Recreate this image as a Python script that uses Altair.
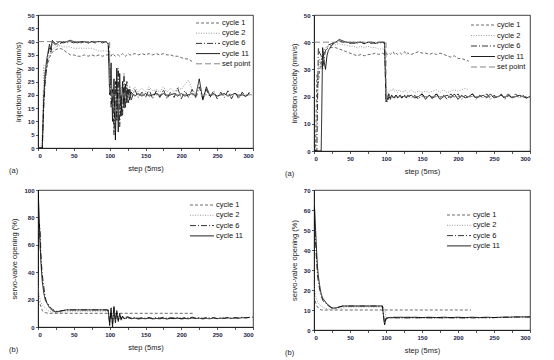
import altair as alt
import pandas as pd

# ---------------- data ----------------
G = [0, 2, 4, 6, 8, 10, 12, 14, 16, 18, 20,
     25, 30, 35, 40, 45, 50, 55, 60, 65, 70, 75, 80, 85, 90, 95,
     98,
     100, 102, 104, 106, 108, 110, 112, 114, 116, 118, 120, 122, 124, 126, 128, 130,
     135, 140, 145, 150, 155, 160, 165, 170, 175, 180, 185, 190, 195, 200, 205, 210, 215,
     220, 225, 230, 235, 240, 245, 250, 255, 260, 265, 270, 275, 280, 285, 290, 295, 300]

B = [0, 1, 2, 3, 4, 5, 6, 8, 10, 12, 14, 16, 18, 20,
     25, 30, 35, 40, 45, 50, 55, 60, 65, 70, 75, 80, 85, 90, 95,
     98,
     100, 102, 104, 106, 108, 110, 112, 114, 116, 118, 120,
     125, 130, 135, 140, 145, 150, 155, 160, 165, 170, 175, 180, 185, 190, 195, 200,
     205, 210, 215, 220, 225, 230, 235, 240, 245, 250, 255, 260, 265, 270, 275, 280,
     285, 290, 295, 300]

SP_X = [0, 100, 100, 300]
SP_Y = [40, 40, 20, 20]

# panel (a) left: injection velocity
TL_c1 = [0, 0, 0, 0, 20, 27, 30, 32, 34, 35, 36,
         37, 37.5, 37, 36, 35, 35, 34.5, 34.5, 35, 34.5, 35, 34.5, 35, 34.5, 35,
         35,
         35, 34.5, 35.5, 35, 34.5, 35, 35, 34.5, 35, 35.5, 35, 34.5, 35, 35.5, 35, 35,
         35.5, 35, 35.5, 35, 35.5, 35, 35.5, 35, 35.5, 35, 35, 34.5, 34.5, 34, 33.5, 33.5, 32.5]
TL_c2 = [0, 0, 0, 5, 31, 24, 30, 33, 35, 36, 37,
         38, 38.5, 38, 38, 38, 37.5, 37.5, 37.5, 37.5, 37.5, 37.5, 37, 36.5, 36.5, 36.5,
         36,
         30, 22, 18, 20, 23, 19, 22, 20, 23, 21, 22, 20, 23, 21, 22, 21,
         23, 21, 22.5, 21, 23, 21.5, 22, 21, 23, 21, 22.5, 21, 23, 22, 24, 25.5, 22, 20.5]
TL_c6 = [0, 0, 0, 0, 15, 25, 30, 35, 38, 36, 40,
         38.5, 39, 40, 39.5, 40, 39.5, 40, 39.5, 40, 39.5, 40, 39.5, 40, 39.5, 40,
         39.5,
         30, 15, 22, 5, 25, 10, 30, 8, 20, 12, 28, 15, 25, 17, 23, 18,
         22, 19, 21, 19, 22, 18.5, 21.5, 19, 22, 18.5, 21, 19, 22.5, 18.5, 21.5, 19, 22,
         19, 23, 18.5, 22, 19, 21.5, 18.5, 21, 19, 21.5, 18.5, 21, 18.5, 21, 19, 21]
TL_c11 = [0, 0, 0, 0, 18, 28, 33, 36, 39, 37, 40.5,
          39, 40, 39.5, 40, 40.5, 40, 39.5, 40, 40, 39.5, 40, 40, 40, 40, 40,
          39,
          20, 32, 10, 26, 3, 30, 6, 28, 12, 25, 15, 24, 17, 22, 18, 21,
          19.5, 20.5, 19.5, 20.5, 19.5, 20, 20.5, 19.5, 20.5, 19.5, 20, 20.5, 19.5, 20.5,
          19.5, 20, 20.5, 19.5, 26, 18, 23, 19.5, 20.5, 19.5, 20, 20.5, 19.5, 20, 20.5,
          19.5, 20, 19.5, 20.5]

# panel (a) right: injection velocity
TR_c1 = [0, 0, 28, 25, 30, 33, 35, 36, 37, 37.5, 38,
         38, 38, 37.5, 37, 36.5, 36, 35.5, 35, 35.5, 35, 35.5, 35.5, 36, 35.5, 36,
         35.5,
         36, 35.5, 36, 35.5, 36, 36.5, 35.5, 36, 35.5, 36, 36, 35.5, 36, 36.5, 35.5, 36,
         35.5, 36, 36.5, 36, 36, 35.5, 36, 35.5, 36, 35.5, 35, 34.5, 35, 34, 34, 33.5, 33]
TR_c2 = [0, 0, 10, 30, 34, 30, 35, 37, 38, 38.5, 38.5,
         39, 39, 39.5, 39, 39, 38.5, 38.5, 38, 38.5, 38, 38.5, 38, 38, 37.5, 37.5,
         37.5,
         25, 20, 22, 22.5, 22, 23, 22, 22.5, 21.5, 22.5, 22, 22, 21.5, 22.5, 22, 21.5,
         22.5, 21.5, 22, 21.5, 22, 21.5, 22, 22.5, 21.5, 22.5, 21.5, 22, 22.5, 22, 22.5, 23, 22.5]
TR_c6 = [0, 0, 0, 38, 36, 35, 30, 34, 37, 38, 39,
         39.5, 40, 40.5, 40, 40, 39.5, 40, 39.5, 40, 39.5, 40, 39.5, 40, 39.5, 40,
         39.5,
         19, 18, 20, 19.5, 20.5, 20, 19.5, 20.5, 19.5, 20.5, 20, 19.5, 20.5, 20, 19.5, 20.5,
         19.5, 20.5, 19, 21, 19.5, 20.5, 19, 21, 19.5, 20.5, 19, 21, 19.5, 21, 19, 20.5,
         19.5, 21, 19, 20.5, 19.5, 21, 19, 20.5, 19.5, 21, 19, 20.5, 19.5, 21, 19.5, 20.5,
         19.5, 20]
TR_c11 = [0, 0, 0, 0, 0, 0, 38, 33, 30, 35, 37,
          39, 40, 41, 40.5, 40, 40, 39.5, 40, 40, 39.5, 40, 40, 39.5, 40, 40,
          40,
          18, 19, 21, 19, 20.5, 19.5, 20, 20.5, 19.5, 20, 20.5, 19.5, 20, 20.5, 19.5, 20,
          20.5, 19.5, 20, 21, 19, 20.5, 19.5, 21, 19, 20, 20.5, 19.5, 21, 19, 20.5, 19.5,
          20, 21, 19.5, 20, 20.5, 19.5, 21, 19.5, 20, 20.5, 19.5, 21, 19.5, 20, 20.5, 20,
          19.5, 20]

# panel (b) left: servo-valve opening
BL_c1_X = [0, 2, 4, 6, 8, 10, 15, 218]
BL_c1 = [20, 18, 15, 12, 11, 10.5, 10, 10]
BL_c2 = [30, 26, 22, 20, 18, 17, 16,
         15, 14, 13, 12, 11.5, 11, 11,
         10.5, 10.5, 11, 11, 11.5, 11.5, 11.5, 11.5, 11.5, 11.5, 11.5, 11.5, 11.5, 11.5, 11.5,
         11,
         7, 6, 6.5, 6, 6.5, 6, 6.5, 6, 6.5, 6, 6.5,
         6, 6.5, 6.2, 6.6, 6, 6.4, 6.1, 6.5, 6.2, 6.6, 6, 6.5, 6.2, 6.4, 6.1, 6.6, 6.3,
         6.5, 6.2, 6.7]
BL_c6 = [40, 60, 75, 70, 55, 45, 38,
         30, 22, 18, 17, 15, 14, 13,
         11.5, 11.5, 12, 12.5, 12.5, 12.5, 12.5, 12.5, 12.5, 12.5, 12.5, 12.5, 12.5, 12.5, 12.5,
         12,
         3, 12, 2, 14, 4, 11, 5, 9, 6, 8, 6.5,
         7.5, 6.5, 7, 6.3, 6.8, 6.4, 7, 6.2, 6.9, 6.5, 7.1, 6.3, 6.8, 6.6, 7, 6.2, 6.9,
         6.4, 7.2, 6.5, 6.8, 6.3, 7, 6.6, 6.9, 6.2, 6.8, 6.5, 7, 6.4, 6.9, 6.6, 7.1, 6.8,
         7, 7.2]
BL_c11 = [100, 90, 75, 60, 48, 40, 33,
          25, 20, 18, 16, 14, 13, 12,
          11, 11.5, 12, 12.5, 12.5, 12.5, 12.5, 12.5, 12.5, 12.5, 12.5, 12.5, 12.5, 12.5, 12.5,
          12.5,
          1, 14, 0, 15, 3, 12, 4, 10, 5, 8, 6,
          7, 6, 6.5, 5.8, 6.3, 6, 6.5, 5.9, 6.2, 6, 6.4, 5.8, 6.3, 6.1, 6.5, 5.9, 6.2, 6,
          6.6, 6.2, 6.4, 5.9, 6.3, 6, 6.5, 6.1, 6.4, 6.2, 6.6, 6.3, 6.5, 6.4, 6.8, 6.6, 7]

# panel (b) right: servo-valve opening
BR_c1_X = [0, 2, 4, 6, 8, 10, 15, 218]
BR_c1 = [17, 14, 12, 11, 10.5, 10, 10, 10]
BR_c2 = [22, 20, 18, 16, 15, 14, 13.5,
         12.5, 12, 11.5, 11, 10.8, 10.5, 10.5,
         10.5, 10.5, 11, 11, 11.5, 11.5, 11.5, 11.5, 11.5, 11.5, 11.5, 11.5, 11.5, 11.5, 11.5,
         11,
         6, 5.8, 6, 5.9, 6, 5.8, 6, 5.9, 6, 6, 5.9,
         6, 5.9, 6, 6.1, 5.9, 6, 6.1, 6, 5.9, 6, 6.1, 6, 5.9, 6.1, 6, 6, 6.1, 6, 5.9]
BR_c6 = [55, 52, 45, 38, 32, 27, 24,
         20, 17, 15, 14, 13.5, 13, 12,
         11, 11, 11.5, 12, 12, 12, 12, 12, 12, 12, 12, 12, 12, 12, 12,
         3,
         6, 6, 6.2, 6, 6.1, 6, 6.2, 6, 6.1, 6, 6.2,
         6.1, 6, 6.2, 6, 6.1, 6.2, 6, 6.1, 6, 6.2, 6.1, 6, 6.2, 6.1, 6, 6.2, 6, 6.1,
         6.2, 6, 6.1, 6, 6.2, 6.1, 6, 6.2, 6.3, 6.2, 6.3, 6.4, 6.3, 6.4, 6.5, 6.4, 6.5, 6.5]
BR_c11 = [62, 60, 52, 44, 37, 31, 27,
          22, 18, 16, 15, 14, 13, 12.5,
          11, 11, 11.5, 12, 12, 12, 12, 12, 12, 12, 12, 12, 12, 12, 12,
          2.5,
          5.5, 6, 6.2, 6.3, 6.2, 6.3, 6.4, 6.3, 6.4, 6.3, 6.4,
          6.3, 6.4, 6.3, 6.4, 6.3, 6.2, 6.3, 6.4, 6.3, 6.2, 6.3, 6.4, 6.3, 6.2, 6.3, 6.4,
          6.3, 6.2, 6.3, 6.4, 6.3, 6.2, 6.3, 6.4, 6.3, 6.2, 6.3, 6.4, 6.5, 6.4, 6.5, 6.6,
          6.5, 6.6, 6.5, 6.6]

X_TICKS = [0, 25, 50, 75, 100, 125, 150, 175, 200, 225, 250, 275, 300]

FONT = "Liberation Sans"


def frame(series):
    rows = []
    for name, xs, ys in series:
        for i, (x, y) in enumerate(zip(xs, ys)):
            rows.append({"series": name, "step": x, "value": y, "i": i})
    return pd.DataFrame(rows)


def panel(series, styles, ymax, ystep, ytitle, w, h, legx, legy, rowh, tag):
    df = frame(series)
    names = [s[0] for s in series]
    colors = [styles[n][0] for n in names]
    dashes = [styles[n][1] for n in names]
    widths = [styles[n][2] for n in names]
    cscale = alt.Scale(domain=names, range=colors)
    dscale = alt.Scale(domain=names, range=dashes)
    wscale = alt.Scale(domain=names, range=widths)

    lines = alt.Chart(df).mark_line(clip=True).encode(
        x=alt.X("step:Q", scale=alt.Scale(domain=[0, 300], nice=False),
                axis=alt.Axis(values=X_TICKS, title="step (5ms)",
                              labelExpr="datum.value % 50 == 0 ? datum.label : ''")),
        y=alt.Y("value:Q", scale=alt.Scale(domain=[0, ymax], nice=False),
                axis=alt.Axis(values=list(range(0, ymax + 1, ystep)), title=ytitle)),
        color=alt.Color("series:N", scale=cscale, legend=None),
        strokeDash=alt.StrokeDash("series:N", scale=dscale, legend=None),
        strokeWidth=alt.StrokeWidth("series:N", scale=wscale, legend=None),
        order="i:Q",
    )

    # legend drawn as a small layer: rows placed by a point scale over the series names
    legdf = pd.DataFrame({"series": names})
    lscale = alt.Scale(type="point", domain=names, padding=0,
                       range=[legy, legy + rowh * (len(names) - 1)])
    leg_lines = alt.Chart(legdf).mark_rule().encode(
        y=alt.Y("series:N", scale=lscale, axis=None),
        x=alt.value(legx), x2=alt.value(legx + 24),
        color=alt.Color("series:N", scale=cscale, legend=None),
        strokeDash=alt.StrokeDash("series:N", scale=dscale, legend=None),
        strokeWidth=alt.StrokeWidth("series:N", scale=wscale, legend=None),
    )
    leg_text = alt.Chart(legdf).mark_text(
        align="left", baseline="middle", fontSize=7.5, font=FONT, fill="#111111"
    ).encode(
        y=alt.Y("series:N", scale=lscale, axis=None),
        x=alt.value(legx + 26), text="series:N",
    )

    label = alt.Chart(pd.DataFrame({"t": [tag]})).mark_text(
        align="left", baseline="middle", fontSize=7.5, font=FONT, fill="#222222"
    ).encode(text="t:N", x=alt.value(-29), y=alt.value(h + 23))

    return alt.layer(lines, leg_lines, leg_text, label).properties(
        width=w, height=h).resolve_scale(y="independent")


TL = panel(
    [("cycle 1", G, TL_c1), ("cycle 2", G, TL_c2), ("cycle 6", G, TL_c6),
     ("cycle 11", G, TL_c11), ("set point", SP_X, SP_Y)],
    {"cycle 1": ("#444444", [3, 2], 0.8), "cycle 2": ("#888888", [1, 1.5], 0.9),
     "cycle 6": ("#111111", [6, 2, 1, 2], 0.9), "cycle 11": ("#000000", [1, 0], 1.1),
     "set point": ("#777777", [6, 3], 1.0)},
    50, 5, "injection velocity (mm/s)", 215, 133, 158, 8, 10.2, "(a)")

TR = panel(
    [("cycle 1", G, TR_c1), ("cycle 2", G, TR_c2), ("cycle 6", G, TR_c6),
     ("cycle 11", G, TR_c11), ("set point", SP_X, SP_Y)],
    {"cycle 1": ("#111111", [3, 2], 0.8), "cycle 2": ("#222222", [1, 1.5], 0.8),
     "cycle 6": ("#888888", [7, 3], 1.3), "cycle 11": ("#888888", [1, 0], 1.2),
     "set point": ("#000000", [1, 0], 1.0)},
    50, 10, "injection velocity (mm/s)", 216, 136, 157, 10, 10.5, "(a)")

BL = panel(
    [("cycle 1", BL_c1_X, BL_c1), ("cycle 2", B, BL_c2), ("cycle 6", B, BL_c6),
     ("cycle 11", B, BL_c11)],
    {"cycle 1": ("#777777", [3, 2], 0.9), "cycle 2": ("#333333", [4, 1.5, 1, 1.5, 1, 1.5], 0.9),
     "cycle 6": ("#111111", [6, 2, 1, 2], 0.9), "cycle 11": ("#555555", [1, 0], 1.3)},
    100, 20, "servo-valve opening (%)", 215, 137, 152, 15, 10.3, "(b)")

BR = panel(
    [("cycle 1", BR_c1_X, BR_c1), ("cycle 2", B, BR_c2), ("cycle 6", B, BR_c6),
     ("cycle 11", B, BR_c11)],
    {"cycle 1": ("#111111", [3, 2], 0.8), "cycle 2": ("#222222", [1, 1.5], 0.8),
     "cycle 6": ("#888888", [7, 2], 1.6), "cycle 11": ("#000000", [1, 0], 1.0)},
    70, 10, "servo-valve opening (%)", 216, 140, 133, 25, 10.3, "(b)")

top = alt.hconcat(TL, TR, spacing=30)
bottom = alt.hconcat(BL, BR, spacing=30)

chart = alt.vconcat(top, bottom, spacing=8).properties(
    padding={"left": 0, "top": 3, "right": 0, "bottom": 0},
    background="white",
).configure_view(
    stroke="#111111", strokeWidth=0.8
).configure_axis(
    grid=False, domainColor="#111111", domainWidth=0.8, tickColor="#111111",
    tickSize=2.5, tickWidth=0.7, labelFontSize=6, labelFontWeight="bold",
    labelColor="#222244", labelFont=FONT, labelPadding=1.5,
    titleFont=FONT, titleFontSize=7.5, titleFontWeight="normal", titleColor="#222222",
    titlePadding=5
).configure_axisX(titlePadding=6)

chart.save("out.html", embed_options={"renderer": "svg", "actions": False})
